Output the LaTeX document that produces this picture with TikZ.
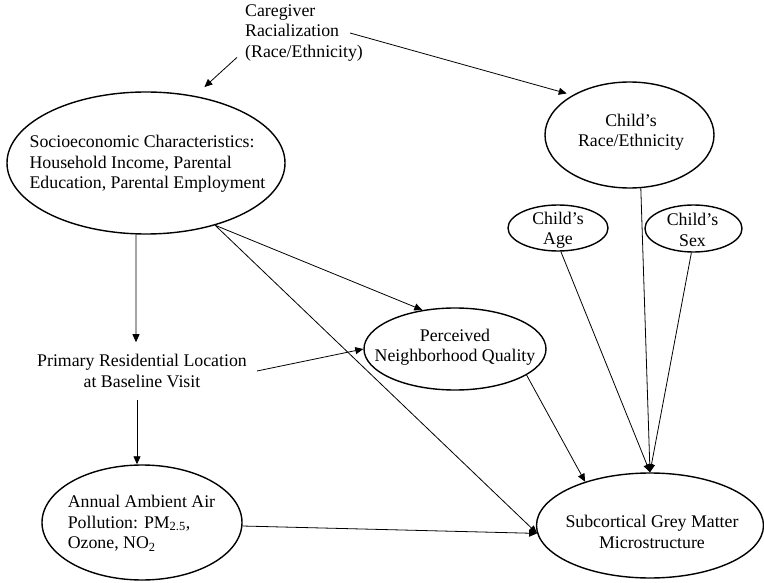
\documentclass[tikz,border=0pt]{standalone}
\usepackage{fontspec}
\setmainfont{Liberation Serif}
\usetikzlibrary{arrows.meta,shapes.geometric}
\begin{document}
\begin{tikzpicture}[x=1pt,y=-1pt,
  oval/.style={ellipse,draw,line width=1.4pt,inner sep=0pt},
  lbl/.style={font=\fontsize{17.8pt}{20.5pt}\selectfont,inner sep=0pt},
  arr/.style={-{Triangle[length=8pt,width=7pt]},line width=0.8pt}]
\useasboundingbox (0,0) rectangle (764,583);

% ellipses
\node[oval,minimum width=278pt,minimum height=142pt] (socio) at (146,163) {};
\node[oval,minimum width=169pt,minimum height=106pt] (race) at (629.5,135) {};
\node[oval,minimum width=100pt,minimum height=46pt] (age) at (558,228) {};
\node[oval,minimum width=97pt,minimum height=47pt] (sex) at (693.5,228.5) {};
\node[oval,minimum width=182pt,minimum height=82pt] (perc) at (455,349) {};
\node[oval,minimum width=200pt,minimum height=115pt] (annual) at (142,522.5) {};
\node[oval,minimum width=227pt,minimum height=105pt] (sub) at (650,525.5) {};

% texts
\node[lbl,align=left,anchor=west,inner xsep=8pt,inner ysep=2pt] (care) at (237,33)
  {Caregiver\\Racialization\\(Race/Ethnicity)};
\node[lbl,align=left] (sociot) at (147.5,164) {Socioeconomic Characteristics:\\Household Income, Parental\\Education, Parental Employment};
\node[lbl,align=center,inner xsep=10pt,inner ysep=12pt] (primary) at (142,371) {Primary Residential Location\\at Baseline Visit};
\node[lbl,align=center] (racet) at (631,132) {Child’s\\Race/Ethnicity};
\node[lbl,align=center] (aget) at (558,230) {Child’s\\Age};
\node[lbl,align=center] (sext) at (692.5,230) {Child’s\\Sex};
\node[lbl,align=center] (perct) at (455,347) {Perceived\\Neighborhood Quality};
\node[lbl,align=left] (annualt) at (141.5,523.5) {Annual Ambient Air\\Pollution: PM\textsubscript{2.5},\\Ozone, NO\textsubscript{2}};
\node[lbl,align=center] (subt) at (652,532) {Subcortical Grey Matter\\Microstructure};

% connectors
\draw[arr,shorten >=13pt] (care.200) -- (socio.54);
\draw[arr,shorten >=6pt] ([xshift=-21pt]care.east) -- (race.145);
\draw[arr] (socio.-98) -- ([xshift=-6pt]primary.north);
\draw[arr] ([xshift=-5pt]primary.south) -- ([xshift=-5pt]annual.north);
\draw[arr] (primary.east) -- (perc.west);
\draw[arr] (socio.-42) -- (perc.130);
\draw[arr] (socio.-42) -- (sub.184);
\draw[arr] (annual.-2) -- (sub.184);
\draw[arr] (perc.-20) -- (sub.146);
\draw[arr] (age.-83) -- (sub.north);
\draw[arr] (race.-78) -- (sub.north);
\draw[arr] (sex.-95) -- (sub.north);
\end{tikzpicture}
\end{document}
